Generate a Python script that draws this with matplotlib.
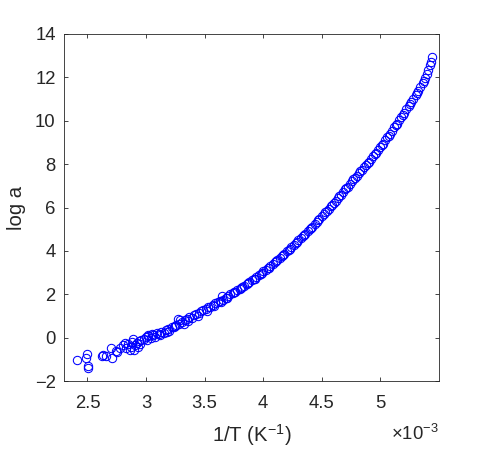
import numpy as np
import matplotlib
matplotlib.use('Agg')
import matplotlib.pyplot as plt

# 1/T in units of 1e-3 K^-1
inv_T = [2.415, 2.497, 2.490, 2.505, 2.508,
         2.620, 2.635, 2.655, 2.700, 2.713, 2.756, 2.740,
         2.780, 2.800, 2.820, 2.830, 2.850, 2.860, 2.870, 2.880, 2.890, 2.900,
         2.910, 2.920, 2.930, 2.940, 2.950, 2.960, 2.980, 2.998,
         3.010, 3.020, 3.020, 3.040, 3.050, 3.060, 3.080, 3.097, 3.110, 3.120,
         3.130, 3.150, 3.170, 3.180, 3.190, 3.200, 3.220, 3.240, 3.250, 3.260,
         3.270, 3.280, 3.290, 3.310, 3.320, 3.330, 3.350, 3.360, 3.370, 3.390,
         3.410, 3.430, 3.440, 3.450, 3.470, 3.490, 3.510, 3.520, 3.530, 3.550,
         3.570, 3.580, 3.590, 3.610, 3.630, 3.640, 3.650, 3.660, 3.680, 3.690,
         3.700, 3.720, 3.740, 3.750, 3.760, 3.780, 3.800, 3.810, 3.820, 3.840,
         3.860, 3.870, 3.880, 3.900, 3.920, 3.930, 3.940, 3.960, 3.980, 3.990,
         4.000, 4.020, 4.040, 4.050, 4.060, 4.080, 4.100, 4.110, 4.120, 4.140,
         4.160, 4.170, 4.180, 4.200, 4.220, 4.230, 4.240, 4.260, 4.280, 4.290,
         4.300, 4.320, 4.340, 4.350, 4.360, 4.380, 4.400, 4.410, 4.420, 4.440,
         4.460, 4.470, 4.480, 4.500, 4.520, 4.530, 4.540, 4.560, 4.580, 4.590,
         4.600, 4.620, 4.640, 4.650, 4.660, 4.680, 4.700, 4.710, 4.720, 4.740,
         4.760, 4.770, 4.780, 4.800, 4.820, 4.830, 4.840, 4.860, 4.880, 4.890,
         4.900, 4.920, 4.940, 4.950, 4.960, 4.980, 5.000, 5.010, 5.020, 5.040,
         5.060, 5.070, 5.080, 5.100, 5.120, 5.130, 5.140, 5.160, 5.180, 5.190,
         5.200, 5.220, 5.240, 5.250, 5.260, 5.280, 5.300, 5.310, 5.320, 5.340,
         5.360, 5.370, 5.380, 5.400, 5.410, 5.420, 5.430, 5.440]

log_a = [-1.05, -0.77, -0.95, -1.30, -1.38,
         -0.85, -0.80, -0.86, -0.49, -0.95, -0.65, -0.60,
         -0.50, -0.34, -0.25, -0.49, -0.30, -0.55, -0.45, -0.22, -0.08, -0.55,
         -0.35, -0.25, -0.45, -0.15, -0.30, -0.12, -0.05, 0.04,
         -0.10, 0.08, 0.12, 0.00, 0.18, 0.12, 0.05, 0.20, 0.15, 0.10,
         0.28, 0.22, 0.35, 0.28, 0.40, 0.30, 0.50, 0.48, 0.52, 0.60,
         0.85, 0.65, 0.82, 0.70, 0.62, 0.80, 0.85, 0.78, 0.95, 0.92,
         1.05, 1.08, 1.02, 1.15, 1.22, 1.28, 1.30, 1.25, 1.40, 1.42,
         1.50, 1.45, 1.58, 1.62, 1.70, 1.65, 1.90, 1.75, 1.85, 1.82,
         1.92, 2.00, 2.05, 2.10, 2.12, 2.20, 2.25, 2.30, 2.35, 2.40,
         2.48, 2.50, 2.55, 2.65, 2.72, 2.70, 2.80, 2.88, 2.95, 3.00,
         3.05, 3.12, 3.20, 3.22, 3.30, 3.40, 3.48, 3.55, 3.58, 3.65,
         3.78, 3.80, 3.85, 3.98, 4.05, 4.10, 4.18, 4.25, 4.38, 4.40,
         4.48, 4.58, 4.68, 4.75, 4.80, 4.90, 5.00, 5.05, 5.12, 5.22,
         5.35, 5.42, 5.45, 5.60, 5.70, 5.78, 5.82, 5.95, 6.05, 6.10,
         6.20, 6.32, 6.45, 6.55, 6.58, 6.72, 6.85, 6.90, 6.95, 7.10,
         7.22, 7.30, 7.35, 7.45, 7.60, 7.68, 7.72, 7.85, 7.98, 8.05,
         8.10, 8.25, 8.38, 8.45, 8.52, 8.65, 8.80, 8.88, 8.95, 9.10,
         9.25, 9.30, 9.40, 9.55, 9.70, 9.80, 9.85, 10.02, 10.18, 10.25,
         10.35, 10.52, 10.68, 10.78, 10.85, 11.02, 11.20, 11.30, 11.38, 11.55,
         11.75, 11.85, 11.95, 12.15, 12.35, 12.55, 12.70, 12.95]

x_ticks = [2.5, 3, 3.5, 4, 4.5, 5]
x_labels = ['2.5', '3', '3.5', '4', '4.5', '5']
y_ticks = [-2, 0, 2, 4, 6, 8, 10, 12, 14]

plt.rcParams['font.family'] = ['Liberation Sans', 'DejaVu Sans']
plt.rcParams['mathtext.fontset'] = 'custom'
plt.rcParams['mathtext.rm'] = 'Liberation Sans'
axcol = '#262626'

fig = plt.figure(figsize=(4.87, 4.49), dpi=100)
ax = fig.add_axes([64/487, 1-381/449, (439-64)/487, (381-34)/449])

ax.plot(inv_T, log_a, linestyle='none', marker='o', ms=6.0, mfc='none',
        mec=(0, 0, 1), mew=0.75)

ax.set_xlim(2.3, 5.5)
ax.set_ylim(-2, 14)
ax.set_xticks(x_ticks)
ax.set_xticklabels(x_labels)
ax.set_yticks(y_ticks)

ax.tick_params(direction='in', length=3, width=0.6, colors=axcol,
               labelsize=13.3, top=True, right=True, pad=6)
ax.tick_params(axis='x', pad=10)
for s in ax.spines.values():
    s.set_color(axcol)
    s.set_linewidth(0.6)

ax.text(1.0, -0.152, r'$\times$10$^{-3}$', transform=ax.transAxes,
        ha='right', va='center', fontsize=13.3, color=axcol)

ax.set_xlabel('1/T (K$^{-1}$)', fontsize=14.6, color=axcol, labelpad=7)
ax.set_ylabel('log a', fontsize=14.6, color=axcol, labelpad=6)

fig.savefig('out.png', dpi=100)
plt.close()
